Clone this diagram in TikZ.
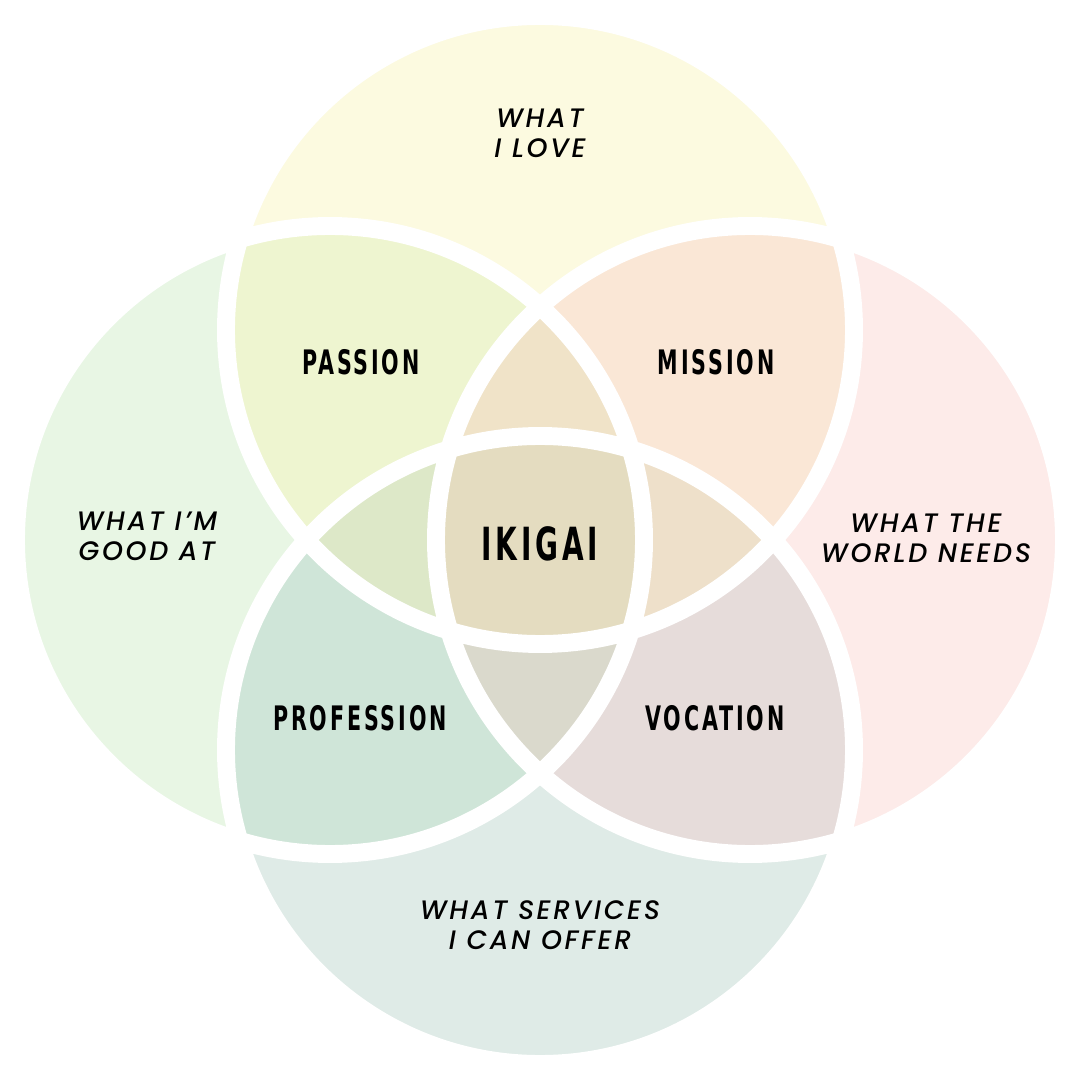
\documentclass[tikz,border=0pt]{standalone}
\usepackage{fontspec}
\setmainfont{Poppins}
\newfontfamily\tagfont[LetterSpace=8.5,FakeStretch=0.68]{DejaVu Sans Condensed}
\newfontfamily\wishfont[LetterSpace=10,ItalicFont={Poppins Medium Italic}]{Poppins Medium}
\usetikzlibrary{positioning}
\definecolor{LoveYellow}{HTML}{FCFAE0}
\definecolor{GoodGreen}{HTML}{E8F6E4}
\definecolor{WorldPink}{HTML}{FDEBE9}
\definecolor{OfferTeal}{HTML}{DFEBE7}
\definecolor{PassionCol}{HTML}{EEF5D0}
\definecolor{MissionCol}{HTML}{FAE7D6}
\definecolor{ProfessionCol}{HTML}{CFE5D8}
\definecolor{VocationCol}{HTML}{E6DCDA}
\definecolor{UpperLens}{HTML}{F0E3C8}
\definecolor{LeftLens}{HTML}{DDE8C8}
\definecolor{RightLens}{HTML}{EEE0CA}
\definecolor{LowerLens}{HTML}{DAD9CC}
\definecolor{IkigaiCol}{HTML}{E4DCC0}

\begin{document}
\begin{tikzpicture}[
    tag/.style={font=\tagfont\bfseries\fontsize{9.6}{9.6}\selectfont},
    wish/.style={align=center,font=\wishfont\itshape\fontsize{7.6}{8.6}\selectfont}]
  \useasboundingbox (-5.4,-5.4) rectangle (5.4,5.4);
  \def\rad{3.14}
  \coordinate (love)  at (0,2.1);
  \coordinate (good)  at (-2.1,0);
  \coordinate (world) at (2.1,0);
  \coordinate (offer) at (0,-2.1);
  % the four circles
  \fill[LoveYellow] (love) circle (\rad);
  \fill[GoodGreen]  (good) circle (\rad);
  \fill[WorldPink]  (world) circle (\rad);
  \fill[OfferTeal]  (offer) circle (\rad);
  % overlaps of two
  \begin{scope}\clip (love) circle (\rad);
    \fill[PassionCol] (good) circle (\rad);
    \fill[MissionCol] (world) circle (\rad);
  \end{scope}
  \begin{scope}\clip (offer) circle (\rad);
    \fill[ProfessionCol] (good) circle (\rad);
    \fill[VocationCol] (world) circle (\rad);
  \end{scope}
  % overlaps of three
  \begin{scope}\clip (good) circle (\rad);
    \begin{scope}\clip (world) circle (\rad);
      \fill[UpperLens] (love) circle (\rad);
      \fill[LowerLens] (offer) circle (\rad);
    \end{scope}
  \end{scope}
  \begin{scope}\clip (love) circle (\rad);
    \begin{scope}\clip (offer) circle (\rad);
      \fill[LeftLens] (good) circle (\rad);
      \fill[RightLens] (world) circle (\rad);
      \begin{scope}\clip (good) circle (\rad);
        \fill[IkigaiCol] (world) circle (\rad);
      \end{scope}
    \end{scope}
  \end{scope}
  % white rims
  \foreach \c in {love,good,world,offer}
    \draw[white,line width=5.1pt] (\c) circle (\rad);
  % labels
  \node[wish] (lovetxt)  at (0,4.07)    {WHAT\\I LOVE};
  \node[wish] (goodtxt)  at (-3.93,0.04) {WHAT I’M\\GOOD AT};
  \node[wish] (worldtxt) at (3.86,0.02) {WHAT THE\\WORLD NEEDS};
  \node[wish] (offertxt) at (0,-3.85)   {WHAT SERVICES\\I CAN OFFER};
  \node[tag] (passion)    at (-1.79,1.78)  {PASSION};
  \node[tag] (mission)    at (1.76,1.78)   {MISSION};
  \node[tag] (profession) at (-1.80,-1.78) {PROFESSION};
  \node[tag] (vocation)   at (1.75,-1.78)  {VOCATION};
  \node[tag,font=\tagfont\bfseries\fontsize{13}{13}\selectfont] (ikigai) at (0,-0.04) {IKIGAI};
\end{tikzpicture}
\end{document}
